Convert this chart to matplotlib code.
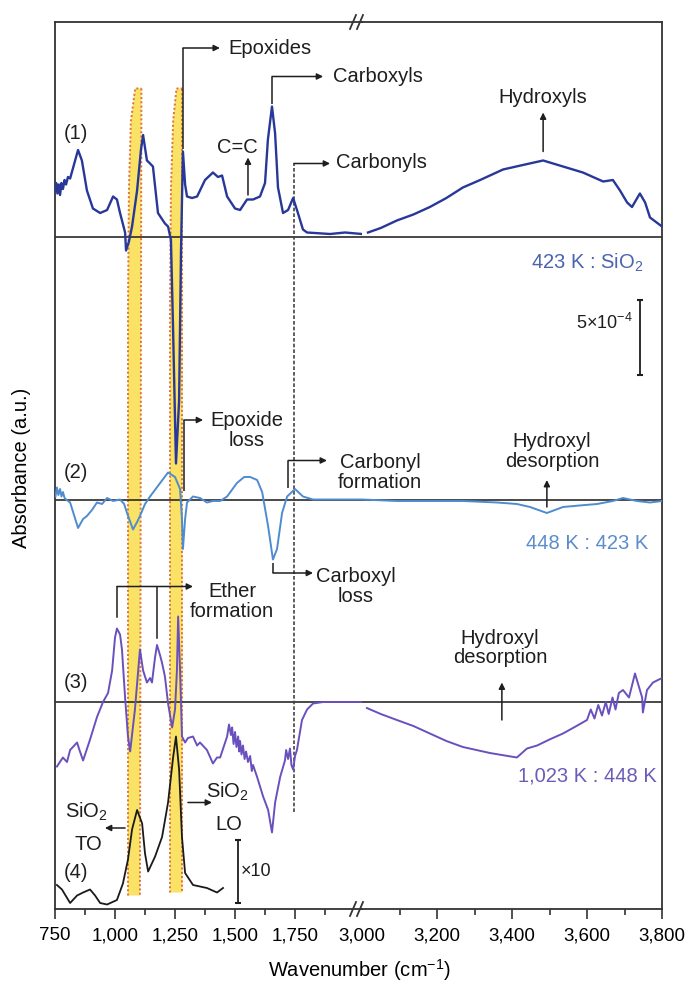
import matplotlib
matplotlib.use('Agg')
import matplotlib.pyplot as plt
from matplotlib.lines import Line2D
from matplotlib.patches import Polygon

plt.rcParams['font.family'] = ['Liberation Sans', 'DejaVu Sans']
plt.rcParams['mathtext.fontset'] = 'custom'
plt.rcParams['mathtext.rm'] = 'Liberation Sans'
plt.rcParams['mathtext.it'] = 'Liberation Sans:italic'
plt.rcParams['mathtext.default'] = 'regular'

# absorbance in units of 1e-4, relative to each trace's baseline
wn1_lo = [750, 755, 760, 766, 771, 777, 783, 790, 796, 804, 813, 846, 862, 883, 908, 938, 967, 992, 1008,
          1021, 1042, 1046, 1058, 1071, 1092, 1108, 1117, 1133, 1146, 1158, 1179, 1208, 1221, 1233, 1242,
          1254, 1267, 1275, 1283, 1292, 1300, 1321, 1342, 1375, 1408, 1429, 1446, 1467, 1500, 1521, 1550,
          1575, 1604, 1625, 1637, 1654, 1667, 1679, 1700, 1721, 1742, 1762, 1783, 1800, 1896, 1958, 2029]
a1_lo = [3.1, 3.6, 2.9, 3.5, 2.8, 3.6, 3.2, 3.8, 3.5, 4.0, 3.9, 5.8, 5.1, 3.1, 1.9, 1.6, 1.8, 2.7, 2.5,
         1.6, 0.3, -0.9, -0.3, 0.7, 3.1, 5.8, 6.8, 5.1, 4.9, 4.7, 1.6, 0.9, 0.7, -0.2, -6.2,
         -15.1, -10.9, -0.9, 5.7, 3.5, 2.7, 2.6, 2.7, 3.8, 4.3, 4.0, 4.1, 2.7, 1.9, 1.8, 2.5,
         2.5, 2.7, 3.6, 6.5, 8.7, 6.9, 3.3, 1.6, 1.8, 2.6, 1.6, 0.5, 0.3, 0.2, 0.3, 0.2]
wn1_hi = [3016, 3050, 3093, 3137, 3181, 3225, 3269, 3315, 3376, 3429, 3483, 3536, 3589, 3643, 3669,
          3688, 3707, 3720, 3741, 3755, 3768, 3800]
a1_hi = [0.3, 0.6, 1.1, 1.5, 2.0, 2.6, 3.3, 3.8, 4.5, 4.8, 5.1, 4.7, 4.3, 3.7, 3.8,
         3.1, 2.3, 2.0, 2.9, 2.3, 1.3, 0.7]

wn2_lo = [752, 758, 764, 771, 777, 783, 790, 796, 813, 846, 867, 883, 904, 925, 946, 967, 992, 1021, 1038,
          1050, 1075, 1092, 1104, 1125, 1146, 1188, 1221, 1250, 1271, 1279, 1283, 1292, 1300, 1325, 1354,
          1383, 1408, 1438, 1467, 1508, 1538, 1563, 1592, 1613, 1638, 1658, 1675, 1696, 1717, 1750, 1783,
          1825, 2029]
a2_lo = [0.2, 0.8, 0.3, 0.7, 0.2, 0.5, 0.1, 0.0, -0.2, -1.9, -1.3, -1.1, -0.7, -0.2, -0.3, 0.1, -0.1, 0.0, -0.3,
         -0.9, -2.0, -1.5, -1.1, -0.3, 0.2, 1.1, 1.8, 1.5, 0.7, -1.3, -3.3, -1.3, -0.2, 0.2, 0.1,
         -0.2, -0.1, -0.1, 0.2, 1.1, 1.5, 1.5, 1.3, 0.5, -1.8, -4.0, -3.3, -0.9, 0.2, 0.7, 0.2,
         0.0, 0.0]
wn2_hi = [3000, 3093, 3181, 3270, 3360, 3413, 3448, 3493, 3536, 3580, 3627, 3669, 3696, 3733, 3768, 3800]
a2_hi = [0.0, -0.1, -0.1, -0.1, -0.2, -0.3, -0.5, -0.9, -0.5, -0.4, -0.3, -0.1, 0.1, -0.1, -0.2, -0.1]

wn3_lo = [758, 783, 800, 813, 842, 854, 867, 896, 925, 950, 971, 988, 1000, 1008, 1021, 1029, 1042, 1054,
          1063, 1083, 1104, 1117, 1133, 1146, 1154, 1167, 1175, 1188, 1196, 1208, 1221, 1238, 1250, 1258,
          1263, 1271, 1279, 1292, 1304, 1325, 1342, 1354, 1383, 1408, 1425, 1438, 1467, 1475, 1483, 1488,
          1494, 1500, 1506, 1513, 1517, 1521, 1527, 1533, 1540, 1546, 1554, 1563, 1570, 1575, 1592, 1617,
          1638, 1654, 1667, 1688, 1708, 1713, 1721, 1729, 1735, 1742, 1750, 1758, 1779, 1800, 1825, 1867,
          1938, 2029]
a3_lo = [-4.3, -3.7, -4.0, -3.2, -2.7, -3.3, -3.9, -2.5, -1.0, 0.0, 0.6, 2.1, 4.3, 4.9, 4.5, 3.5, 0.3, -2.3,
         -3.3, -0.5, 3.5, 2.1, 1.3, 1.6, 1.3, 3.0, 3.8, 3.1, 2.6, 1.7, -0.1, -1.7, -0.5, 2.1,
         5.7, 2.1, -2.3, -2.7, -2.4, -2.3, -2.9, -2.7, -3.2, -4.1, -3.7, -3.7, -2.3, -1.5, -2.2, -1.7,
         -2.8, -2.0, -3.0, -2.3, -3.3, -2.6, -3.5, -2.9, -3.8, -3.3, -4.0, -3.6, -4.6, -4.2, -5.0, -6.3,
         -7.2, -8.7, -6.7, -5.0, -3.9, -3.2, -3.8, -3.1, -4.2, -4.5, -3.6, -3.2, -1.2, -0.5, -0.1, 0.0,
         0.0, 0.0]
wn3_hi = [3013, 3050, 3093, 3137, 3181, 3225, 3269, 3341, 3413, 3440, 3467, 3500, 3536, 3572, 3600, 3610,
          3620, 3630, 3640, 3650, 3658, 3668, 3676, 3685, 3696, 3712, 3728, 3747, 3749, 3760, 3776, 3800]
a3_hi = [-0.4, -0.8, -1.2, -1.6, -2.1, -2.6, -3.0, -3.4, -3.7, -3.1, -2.9, -2.5, -2.1, -1.6, -1.2, -0.5,
         -1.1, -0.2, -0.9, 0.0, -0.8, 0.3, -0.5, 0.6, 0.8, 0.3, 1.9, 0.3, -0.7, 0.8, 1.3, 1.6]

# SiO2 reference, x10
wn4 = [758, 779, 813, 842, 867, 896, 917, 938, 967, 1008, 1033, 1054, 1071, 1092, 1113, 1125, 1138, 1167,
       1196, 1221, 1242, 1254, 1267, 1279, 1292, 1325, 1383, 1425, 1450]
a4 = [1.6, 1.3, 0.4, 0.9, 1.1, 1.3, 0.9, 0.4, 0.3, 0.6, 1.7, 3.3, 5.3, 6.6, 5.7, 3.7, 2.5, 3.5,
      4.8, 7.1, 10.1, 11.5, 9.3, 4.8, 2.4, 1.6, 1.4, 1.1, 1.4]

offsets = [44.8, 27.3, 13.8, 0.0]
colors = ['#27389a', '#4f8ccf', '#6a50bd', '#1a1a1a']
label_colors = ['#4a64ad', '#5b8ccb', '#6d5cb6']
ratio_labels = ['423 K : SiO$_2$', '448 K : 423 K', '1,023 K : 448 K']

ticks_lo = [750, 1000, 1250, 1500, 1750]
ticks_hi = [3000, 3200, 3400, 3600, 3800]

W, H = 691, 985
def box(x0, y0, x1, y1):
    return [x0 / W, 1 - y1 / H, (x1 - x0) / W, (y1 - y0) / H]

fig = plt.figure(figsize=(6.91, 9.85), dpi=100)
ax1 = fig.add_axes(box(55, 22, 362, 909))
ax2 = fig.add_axes(box(362, 22, 662, 909))
YMAX = 887 / 15.0
ink = '#1e1e1e'
FS = 14.5

for ax in (ax1, ax2):
    ax.set_facecolor('none')
    ax.set_ylim(0, YMAX)
    ax.set_yticks([])
    for s in ax.spines.values():
        s.set_color('#333333')
        s.set_linewidth(1.3)
    ax.tick_params(axis='x', which='major', direction='out', length=7, width=1.2, color='#333333',
                   labelsize=13.5, pad=6)
    ax.tick_params(axis='x', which='minor', direction='out', length=4.5, width=1.2, color='#333333')
    for off in offsets[:3]:
        ax.axhline(off, color='#2a2a2a', lw=1.2, zorder=2)

ax1.set_xlim(750, 2029)
ax2.set_xlim(3000, 3800)
ax1.spines['right'].set_visible(False)
ax2.spines['left'].set_visible(False)
ax1.set_xticks(ticks_lo)
ax1.set_xticklabels([f'{t:,}' for t in ticks_lo])
ax1.set_xticks([875, 1125, 1375, 1625, 1875], minor=True)
ax2.set_xticks(ticks_hi)
ax2.set_xticklabels([f'{t:,}' for t in ticks_hi])
ax2.set_xticks([3100, 3300, 3500, 3700], minor=True)
ax2.xaxis.get_major_ticks()[0].tick1line.set_visible(False)

# highlighted bands
band_fill = '#f9e265'
band_edge = '#e0703a'
bands = [
    [(1054, 0.9), (1054, 40), (1058, 48), (1066, 52.5), (1084, 54.7), (1110, 54.7), (1104, 0.9)],
    [(1229, 1.1), (1229, 40), (1233, 48), (1242, 52.5), (1256, 54.7), (1281, 54.7), (1281, 1.1)],
]
for b in bands:
    ax1.add_patch(Polygon(b, closed=True, facecolor=band_fill, edgecolor='none', zorder=0))
    xs, ys = zip(*b)
    ax1.plot(xs[:-1], ys[:-1], ls=(0, (1, 1.2)), color=band_edge, lw=1.4, zorder=1)
    ax1.plot([xs[-2], xs[-1]], [ys[-2], ys[-1]], ls=(0, (1, 1.2)), color=band_edge, lw=1.4, zorder=1)

# spectra
traces = [(wn1_lo, a1_lo, wn1_hi, a1_hi), (wn2_lo, a2_lo, wn2_hi, a2_hi), (wn3_lo, a3_lo, wn3_hi, a3_hi)]
for i, (wl, al, wh, ah) in enumerate(traces):
    lw = 1.7 if i == 0 else 1.4
    ax1.plot(wl, [v + offsets[i] for v in al], color=colors[i], lw=lw, zorder=4)
    ax2.plot(wh, [v + offsets[i] for v in ah], color=colors[i], lw=lw, zorder=4)
ax1.plot(wn4, [v + offsets[3] for v in a4], color=colors[3], lw=1.3, zorder=4)

# carbonyl guide line
ax1.plot([1745, 1745], [6.5, 49.7], ls=(0, (2.2, 1.2)), color='#444444', lw=1.2, zorder=3)

def arrow(ax, p0, p1):
    ax.annotate('', xy=p1, xytext=p0,
                arrowprops=dict(arrowstyle='-|>', color=ink, lw=1.1, mutation_scale=9,
                                shrinkA=0, shrinkB=0), zorder=6)

def bracket(ax, pts):
    xs, ys = zip(*pts)
    ax.plot(xs[:-1], ys[:-1], color=ink, lw=1.1, zorder=6, solid_capstyle='butt')
    arrow(ax, pts[-2], pts[-1])

def label(ax, x, y, s, ha='center', color=ink, size=FS):
    ax.text(x, y, s, ha=ha, va='center', color=color, fontsize=size, zorder=7,
            linespacing=1.05, clip_on=False)

# trace (1)
bracket(ax1, [(1283, 50.7), (1283, 57.4), (1437, 57.4)])
label(ax1, 1471, 57.4, 'Epoxides', ha='left')
bracket(ax1, [(1654, 53.7), (1654, 55.5), (1867, 55.5)])
label(ax1, 1908, 55.5, 'Carboxyls', ha='left')
bracket(ax1, [(1745, 49.7), (1896, 49.7)])
label(ax1, 1921, 49.8, 'Carbonyls', ha='left')
arrow(ax1, (1554, 47.6), (1554, 50.1))
label(ax1, 1508, 50.8, 'C=C')
arrow(ax2, (3483, 50.5), (3483, 53.1))
label(ax2, 3483, 54.1, 'Hydroxyls')

# trace (2)
bracket(ax1, [(1287, 27.9), (1287, 32.6), (1367, 32.6)])
label(ax1, 1550, 31.9, 'Epoxide\nloss')
bracket(ax1, [(1721, 28.1), (1721, 29.9), (1883, 29.9)])
label(ax1, 2104, 29.1, 'Carbonyl\nformation')
arrow(ax2, (3493, 26.8), (3493, 28.6))
label(ax2, 3507, 30.5, 'Hydroxyl\ndesorption')
bracket(ax1, [(1658, 23.1), (1658, 22.4), (1825, 22.4)])
label(ax1, 2004, 21.5, 'Carboxyl\nloss')

# trace (3)
ax1.plot([1008, 1008], [19.5, 21.5], color=ink, lw=1.1, zorder=6)
ax1.plot([1175, 1175], [18.1, 21.5], color=ink, lw=1.1, zorder=6)
bracket(ax1, [(1008, 21.5), (1325, 21.5)])
label(ax1, 1488, 20.5, 'Ether\nformation')
arrow(ax2, (3373, 12.6), (3373, 15.1))
label(ax2, 3368, 17.4, 'Hydroxyl\ndesorption')

# trace (4)
label(ax1, 879, 6.5, 'SiO$_2$')
label(ax1, 887, 4.3, 'TO')
arrow(ax1, (1042, 5.4), (958, 5.4))
arrow(ax1, (1304, 7.1), (1404, 7.1))
label(ax1, 1467, 7.8, 'SiO$_2$')
label(ax1, 1475, 5.6, 'LO')
ax1.plot([1512, 1512], [0.4, 4.6], color=ink, lw=1.3, marker='_', ms=5, mew=1.5, zorder=6)
label(ax1, 1525, 2.5, '×10', ha='left', size=13)

# trace numbers and ratio labels
for i, y in enumerate([51.7, 29.1, 15.1, 2.4]):
    label(ax1, 838, y, f'({i + 1})')
for i, y in enumerate([43.1, 24.4, 8.9]):
    label(ax2, 3600, y, ratio_labels[i], color=label_colors[i])

# scale bar
ax2.plot([3741, 3741], [35.6, 40.6], color=ink, lw=1.3, marker='_', ms=5, mew=1.5, zorder=6)
label(ax2, 3723, 39.1, '5×10$^{-4}$', ha='right', size=13)

# axis break marks
for yb in (22, 909):
    for xb in (353, 360):
        fig.add_artist(Line2D([(xb - 3) / W, (xb + 3) / W], [1 - (yb + 7) / H, 1 - (yb - 7) / H],
                              color='#333333', lw=1.3))

fig.text(359 / W, 1 - 970 / H, 'Wavenumber (cm$^{-1}$)', ha='center', va='center', fontsize=FS)
fig.text(22 / W, 1 - 468 / H, 'Absorbance (a.u.)', ha='center', va='center', rotation=90, fontsize=FS)

fig.savefig('out.png', dpi=100)
